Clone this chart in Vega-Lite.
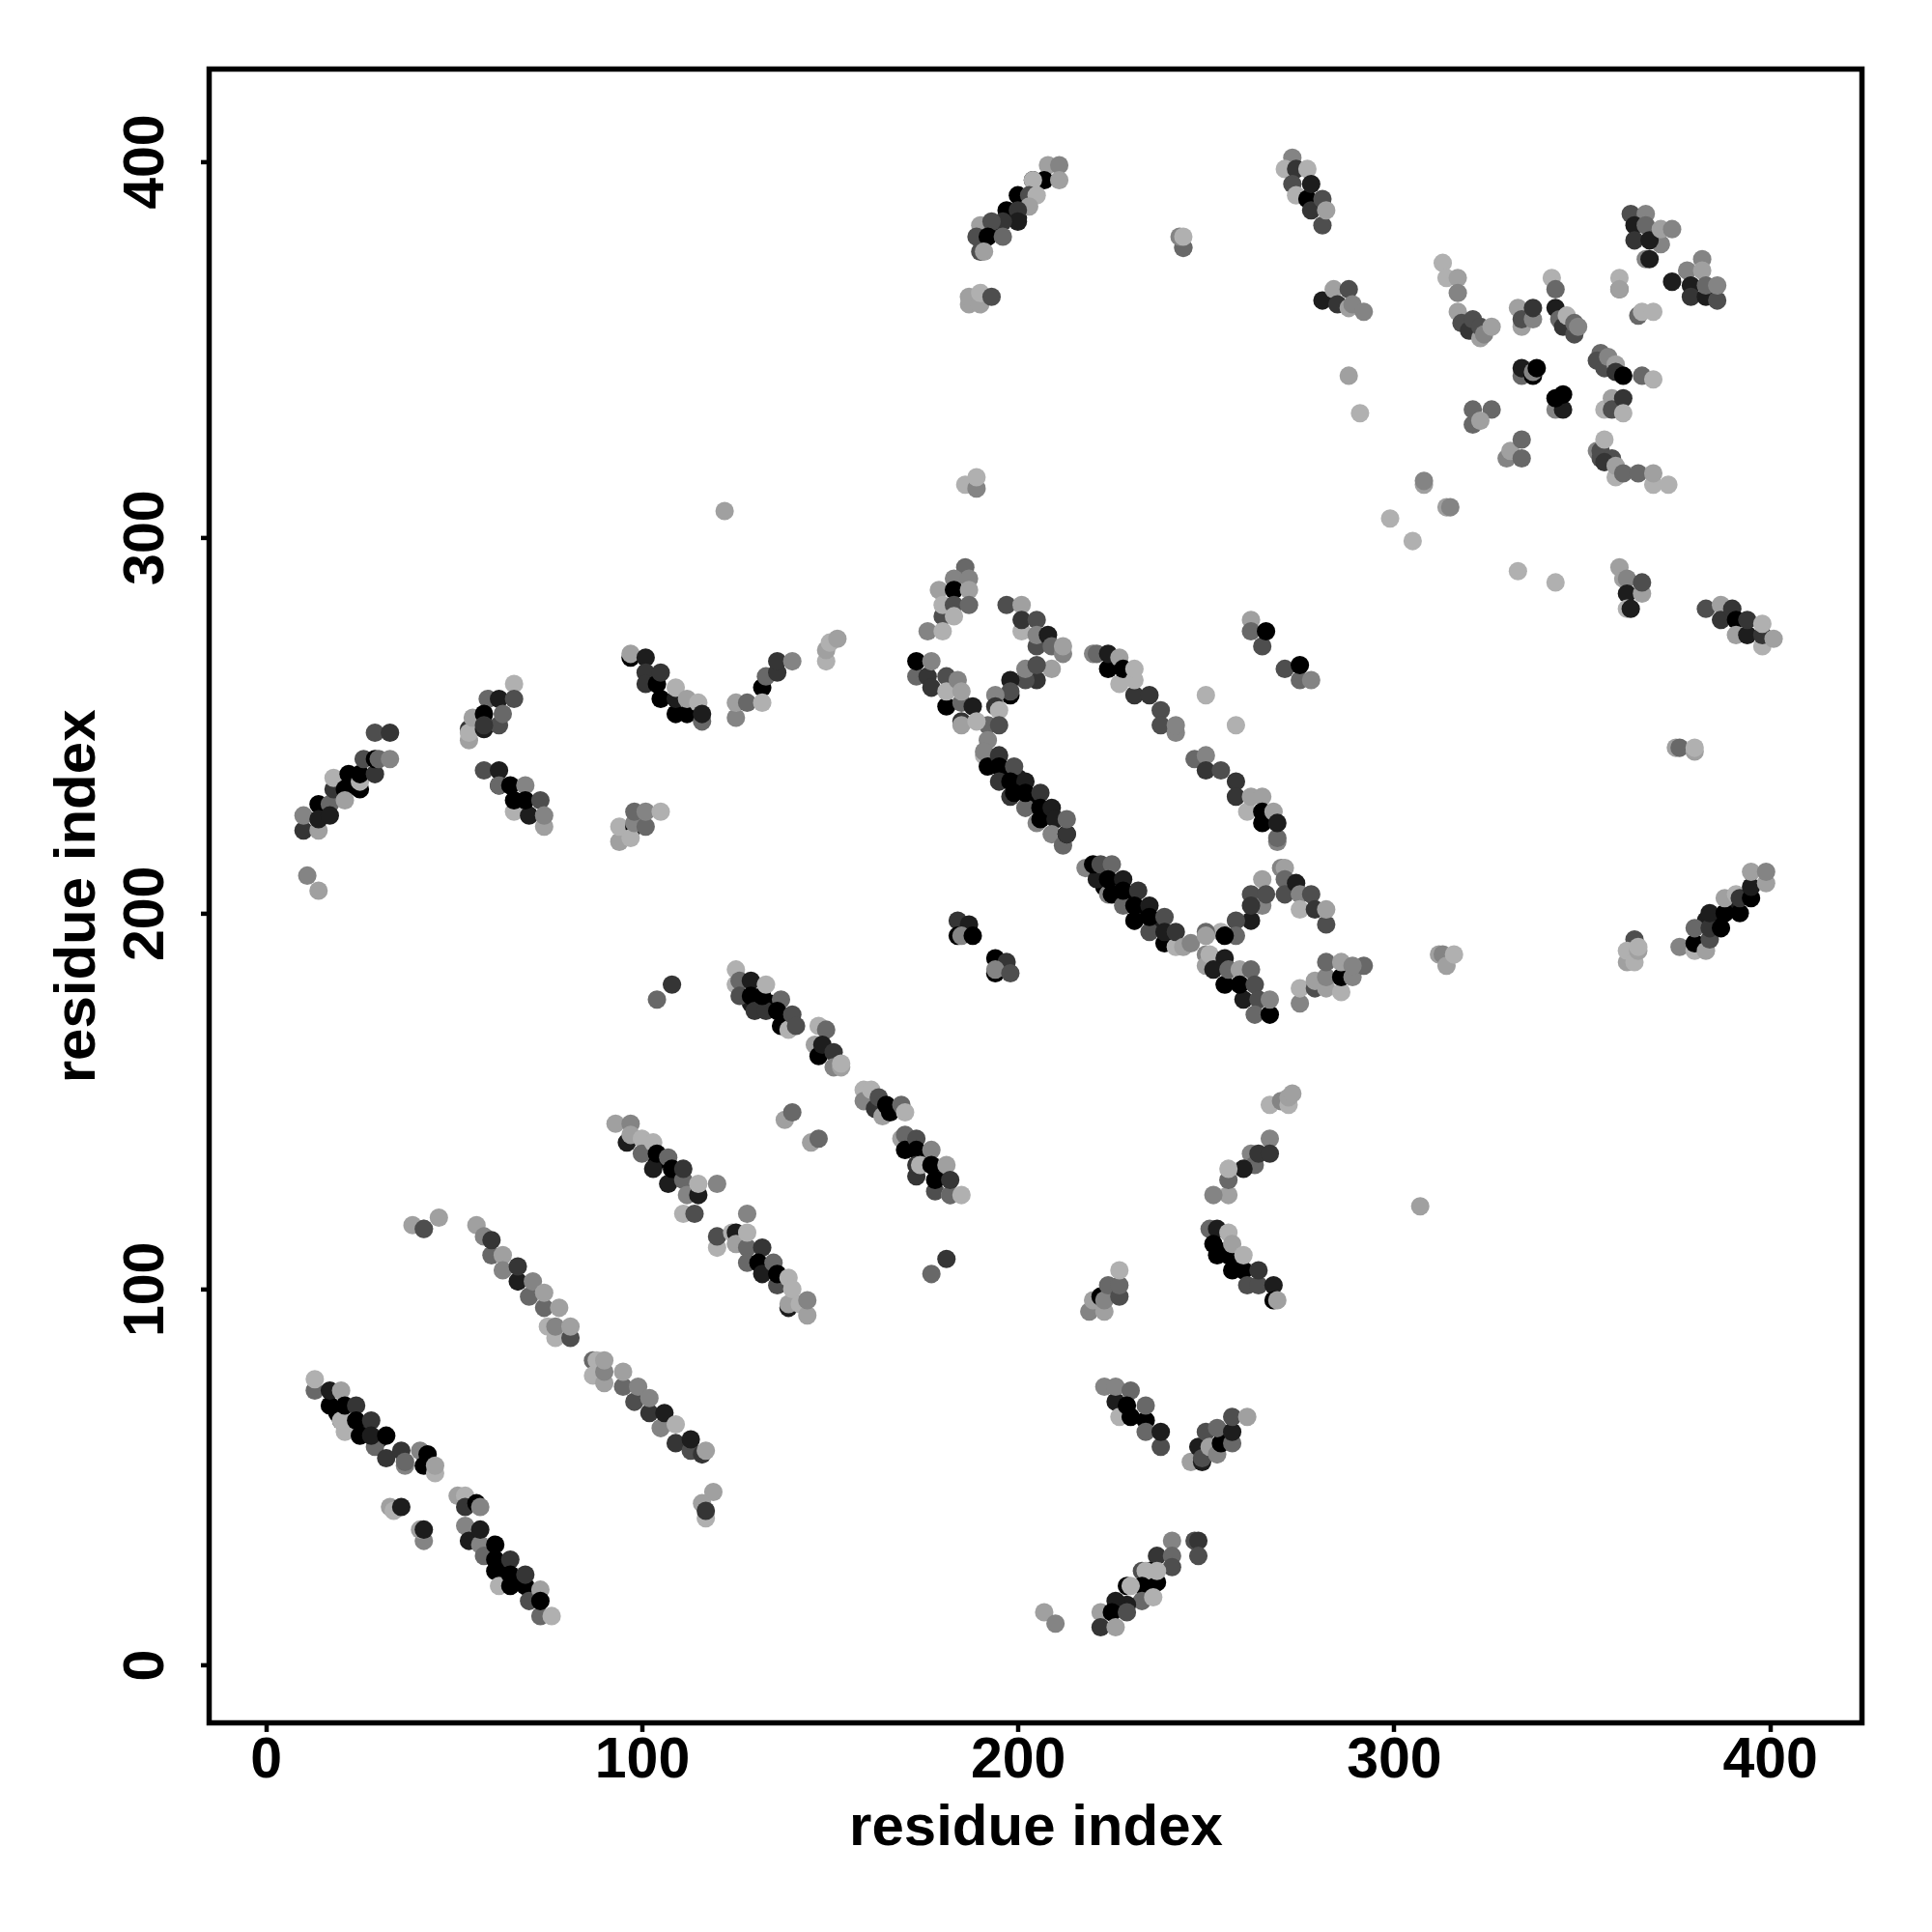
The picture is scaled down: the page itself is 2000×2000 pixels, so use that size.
{"$schema":"https://vega.github.io/schema/vega-lite/v6.json","autosize":"none","padding":{"left":216.5,"top":71.4,"right":72.5,"bottom":216.6},"width":1711,"height":1712,"background":"white","view":{"stroke":"black","strokeWidth":5.5,"fill":null},"data":{"values":[
{"i":197,"j":238,"p":1},{"i":200,"j":236,"p":0.85},{"i":203,"j":230,"p":1},{"i":207,"j":227,"p":0.85},{"i":204,"j":229,"p":1},{"i":223,"j":207,"p":1},{"i":226,"j":207,"p":0.85},{"i":229,"j":204,"p":1},{"i":233,"j":200,"p":1},{"i":237,"j":197,"p":0.85},{"i":241,"j":193,"p":0.7},{"i":19,"j":67,"p":1},{"i":23,"j":63,"p":1},{"i":26,"j":63,"p":0.85},{"i":30,"j":60,"p":0.7},{"i":59,"j":30,"p":1},{"i":63,"j":26,"p":1},{"i":67,"j":22,"p":1},{"i":71,"j":19,"p":0.7},{"i":383,"j":198,"p":0.85},{"i":386,"j":198,"p":1},{"i":390,"j":202,"p":0.85},{"i":200,"j":385,"p":0.85},{"i":194,"j":382,"p":0.85},{"i":129,"j":176,"p":0.85},{"i":134,"j":176,"p":1},{"i":104,"j":134,"p":1},{"i":109,"j":130,"p":0.85},{"i":175,"j":135,"p":0.85},{"i":180,"j":131,"p":0.85},{"i":254,"j":110,"p":1},{"i":258,"j":107,"p":0.85},
{"i":13,"j":73,"p":0.4},{"i":13,"j":76,"p":0.02},{"i":17,"j":69,"p":1},{"i":17,"j":73,"p":0.85},{"i":20,"j":73,"p":0.1},{"i":20,"j":65,"p":1},{"i":21,"j":62,"p":0.02},{"i":20,"j":65,"p":0.02},{"i":21,"j":69,"p":1},{"i":24,"j":69,"p":0.7},{"i":25,"j":61,"p":1},{"i":24,"j":65,"p":1},{"i":29,"j":58,"p":0.4},{"i":28,"j":65,"p":0.7},{"i":28,"j":61,"p":0.85},{"i":32,"j":61,"p":1},{"i":32,"j":55,"p":0.7},{"i":36,"j":57,"p":0.7},{"i":37,"j":53,"p":0.25},{"i":37,"j":54,"p":0.4},{"i":41,"j":57,"p":0.25},{"i":42,"j":53,"p":1},{"i":43,"j":56,"p":1},{"i":45,"j":51,"p":0.02},{"i":45,"j":53,"p":0.1},
{"i":33,"j":42,"p":0.1},{"i":34,"j":41,"p":0.02},{"i":36,"j":42,"p":0.85},{"i":42,"j":33,"p":0.25},{"i":41,"j":36,"p":0.1},{"i":42,"j":36,"p":0.85},
{"i":51,"j":45,"p":0.1},{"i":53,"j":45,"p":0.02},{"i":53,"j":42,"p":0.7},{"i":56,"j":43,"p":1},{"i":57,"j":42,"p":0.25},{"i":53,"j":37,"p":0.25},{"i":54,"j":33,"p":0.85},{"i":57,"j":32,"p":0.25},{"i":57,"j":36,"p":0.85},{"i":58,"j":29,"p":0.4},{"i":61,"j":32,"p":1},{"i":61,"j":28,"p":1},{"i":61,"j":25,"p":1},{"i":62,"j":21,"p":0.02},{"i":65,"j":21,"p":1},{"i":65,"j":28,"p":0.7},{"i":65,"j":24,"p":1},{"i":69,"j":21,"p":1},{"i":69,"j":24,"p":0.7},{"i":70,"j":17,"p":0.55},{"i":73,"j":13,"p":0.4},{"i":73,"j":20,"p":0.1},{"i":73,"j":17,"p":1},{"i":76,"j":13,"p":0.02},
{"i":39,"j":117,"p":0.1},{"i":42,"j":116,"p":0.02},{"i":42,"j":116,"p":0.55},{"i":46,"j":119,"p":0.1},
{"i":56,"j":117,"p":0.1},{"i":58,"j":114,"p":0.25},{"i":60,"j":109,"p":0.4},{"i":60,"j":113,"p":0.7},{"i":63,"j":109,"p":0.1},{"i":63,"j":105,"p":0.25},{"i":67,"j":102,"p":0.85},{"i":67,"j":106,"p":0.7},{"i":70,"j":98,"p":0.4},{"i":71,"j":102,"p":0.25},{"i":74,"j":95,"p":0.4},{"i":74,"j":99,"p":0.1},{"i":75,"j":90,"p":0.02},{"i":78,"j":95,"p":0.1},{"i":77,"j":87,"p":0.02},{"i":81,"j":87,"p":0.55},{"i":77,"j":90,"p":0.25},{"i":81,"j":90,"p":0.1},
{"i":87,"j":81,"p":0.4},{"i":87,"j":77,"p":0.02},{"i":88,"j":81,"p":0.02},{"i":90,"j":75,"p":0.1},{"i":90,"j":78,"p":0.25},{"i":90,"j":81,"p":0.1},{"i":95,"j":74,"p":0.4},{"i":95,"j":78,"p":0.1},{"i":98,"j":70,"p":0.55},{"i":99,"j":74,"p":0.25},{"i":102,"j":67,"p":0.7},{"i":102,"j":71,"p":0.25},{"i":105,"j":63,"p":0.25},{"i":106,"j":67,"p":0.85},{"i":109,"j":59,"p":0.7},{"i":109,"j":64,"p":0.02},{"i":113,"j":57,"p":0.55},{"i":113,"j":60,"p":0.85},{"i":116,"j":56,"p":0.7},{"i":117,"j":57,"p":0.1},
{"i":119,"j":46,"p":0.1},{"i":116,"j":43,"p":0.1},{"i":117,"j":39,"p":0.02},{"i":117,"j":41,"p":0.7},
{"i":93,"j":144,"p":0.1},{"i":97,"j":144,"p":0.25},{"i":96,"j":139,"p":0.85},{"i":97,"j":141,"p":0.1},{"i":100,"j":140,"p":0.02},{"i":100,"j":136,"p":0.4},{"i":103,"j":139,"p":0.02},{"i":103,"j":132,"p":0.85},{"i":104,"j":136,"p":1},{"i":107,"j":135,"p":0.4},{"i":107,"j":128,"p":0.85},{"i":108,"j":132,"p":1},{"i":111,"j":129,"p":0.4},{"i":111,"j":132,"p":0.7},{"i":112,"j":125,"p":0.25},{"i":115,"j":125,"p":0.85},{"i":115,"j":128,"p":0.02},{"i":120,"j":128,"p":0.25},{"i":111,"j":120,"p":0.02},{"i":114,"j":120,"p":0.55},
{"i":120,"j":111,"p":0.02},{"i":120,"j":114,"p":0.55},{"i":124,"j":115,"p":0.02},{"i":125,"j":115,"p":0.85},{"i":125,"j":112,"p":0.1},{"i":128,"j":111,"p":0.4},{"i":128,"j":115,"p":0.02},{"i":128,"j":120,"p":0.25},{"i":128,"j":107,"p":0.4},{"i":132,"j":111,"p":0.7},{"i":131,"j":107,"p":1},{"i":132,"j":104,"p":0.85},{"i":135,"j":107,"p":0.4},{"i":136,"j":101,"p":0.55},{"i":136,"j":104,"p":1},{"i":139,"j":95,"p":0.85},{"i":139,"j":96,"p":0.1},{"i":139,"j":103,"p":0.02},{"i":140,"j":100,"p":0.02},{"i":142,"j":96,"p":0.02},{"i":144,"j":93,"p":0.1},{"i":144,"j":97,"p":0.25},
{"i":125,"j":185,"p":0.02},{"i":125,"j":181,"p":0.02},{"i":126,"j":182,"p":0.4},{"i":126,"j":178,"p":0.55},{"i":129,"j":182,"p":0.85},{"i":129,"j":178,"p":1},{"i":130,"j":174,"p":0.7},{"i":133,"j":174,"p":0.7},{"i":132,"j":178,"p":1},{"i":133,"j":181,"p":0.02},{"i":137,"j":177,"p":0.4},{"i":136,"j":174,"p":1},{"i":137,"j":170,"p":1},{"i":139,"j":169,"p":0.02},{"i":140,"j":173,"p":0.55},{"i":141,"j":170,"p":0.55},
{"i":147,"j":170,"p":0.02},{"i":149,"j":169,"p":0.4},{"i":146,"j":165,"p":0.1},{"i":147,"j":162,"p":1},{"i":148,"j":165,"p":0.85},{"i":151,"j":163,"p":0.7},{"i":151,"j":159,"p":0.25},{"i":153,"j":159,"p":0.1},{"i":153,"j":160,"p":0.02},
{"i":159,"j":153,"p":0.02},{"i":159,"j":150,"p":0.25},{"i":161,"j":153,"p":0.02},{"i":162,"j":148,"p":0.7},{"i":163,"j":151,"p":0.55},{"i":164,"j":146,"p":0.1},{"i":165,"j":149,"p":1},{"i":166,"j":147,"p":1},{"i":169,"j":149,"p":0.4},{"i":170,"j":147,"p":0.02},
{"i":169,"j":140,"p":0.1},{"i":170,"j":141,"p":0.4},{"i":170,"j":137,"p":1},{"i":173,"j":140,"p":0.55},{"i":173,"j":137,"p":1},{"i":173,"j":130,"p":0.7},{"i":173,"j":133,"p":0.7},{"i":174,"j":133,"p":0.02},{"i":177,"j":137,"p":0.25},{"i":178,"j":126,"p":0.55},{"i":178,"j":129,"p":1},{"i":177,"j":133,"p":1},{"i":181,"j":133,"p":0.1},{"i":182,"j":125,"p":0.02},{"i":182,"j":125,"p":0.4},{"i":182,"j":129,"p":0.7},{"i":185,"j":125,"p":0.02},
{"i":138,"j":145,"p":0.1},{"i":140,"j":147,"p":0.4},{"i":145,"j":139,"p":0.1},{"i":147,"j":140,"p":0.4},{"i":104,"j":177,"p":0.4},{"i":108,"j":181,"p":0.7},{"i":177,"j":104,"p":0.4},{"i":181,"j":108,"p":0.7},
{"i":10,"j":222,"p":0.7},{"i":14,"j":222,"p":0.1},{"i":10,"j":226,"p":0.25},{"i":14,"j":229,"p":1},{"i":14,"j":225,"p":0.85},{"i":17,"j":229,"p":0.4},{"i":17,"j":226,"p":0.85},{"i":18,"j":233,"p":0.7},{"i":18,"j":236,"p":0.02},{"i":21,"j":233,"p":1},{"i":21,"j":230,"p":0.1},{"i":22,"j":237,"p":1},{"i":25,"j":233,"p":1},{"i":25,"j":235,"p":0.02},{"i":25,"j":237,"p":1},{"i":29,"j":237,"p":0.7},{"i":26,"j":241,"p":0.55},{"i":29,"j":241,"p":1},{"i":30,"j":241,"p":0.4},{"i":33,"j":241,"p":0.25},{"i":29,"j":248,"p":0.55},{"i":33,"j":248,"p":0.7},
{"i":11,"j":210,"p":0.25},{"i":14,"j":206,"p":0.1},{"i":122,"j":307,"p":0.1},
{"i":66,"j":261,"p":0.02},{"i":59,"j":257,"p":0.4},{"i":54,"j":246,"p":0.1},{"i":54,"j":249,"p":0.7},{"i":54,"j":248,"p":0.02},{"i":55,"j":252,"p":0.1},{"i":58,"j":249,"p":0.85},{"i":58,"j":253,"p":1},{"i":62,"j":250,"p":0.55},{"i":58,"j":250,"p":0.7},{"i":62,"j":257,"p":0.85},{"i":63,"j":253,"p":0.4},{"i":66,"j":257,"p":0.55},
{"i":58,"j":238,"p":0.55},{"i":62,"j":238,"p":0.85},{"i":62,"j":234,"p":1},{"i":62,"j":234,"p":0.4},{"i":66,"j":227,"p":0.02},{"i":65,"j":234,"p":1},{"i":66,"j":230,"p":1},{"i":69,"j":234,"p":0.25},{"i":70,"j":226,"p":0.85},{"i":69,"j":230,"p":1},{"i":73,"j":230,"p":0.55},{"i":74,"j":223,"p":0.1},{"i":74,"j":226,"p":0.25},
{"i":94,"j":219,"p":0.1},{"i":94,"j":223,"p":0.02},{"i":98,"j":223,"p":1},{"i":97,"j":220,"p":0.02},{"i":98,"j":224,"p":0.25},{"i":98,"j":227,"p":0.4},{"i":101,"j":223,"p":0.4},{"i":101,"j":227,"p":0.25},{"i":105,"j":227,"p":0.02},
{"i":97,"j":268,"p":1},{"i":97,"j":269,"p":0.1},{"i":101,"j":268,"p":0.85},{"i":101,"j":264,"p":0.7},{"i":101,"j":261,"p":0.7},{"i":104,"j":261,"p":1},{"i":105,"j":257,"p":1},{"i":105,"j":264,"p":0.7},{"i":109,"j":253,"p":1},{"i":109,"j":257,"p":0.85},{"i":109,"j":260,"p":0.02},{"i":112,"j":253,"p":1},{"i":112,"j":257,"p":0.1},{"i":115,"j":256,"p":0.02},{"i":116,"j":251,"p":0.4},{"i":116,"j":253,"p":0.85},
{"i":125,"j":252,"p":0.25},{"i":125,"j":256,"p":0.1},{"i":128,"j":256,"p":0.4},{"i":132,"j":260,"p":1},{"i":132,"j":256,"p":0.02},{"i":133,"j":263,"p":0.4},{"i":136,"j":264,"p":0.7},{"i":136,"j":267,"p":0.7},{"i":140,"j":267,"p":0.25},
{"i":149,"j":267,"p":0.02},{"i":149,"j":270,"p":0.1},{"i":150,"j":272,"p":0.02},{"i":152,"j":273,"p":0.1},
{"i":186,"j":292,"p":0.4},{"i":183,"j":289,"p":0.25},{"i":187,"j":289,"p":0.25},{"i":179,"j":286,"p":0.1},{"i":183,"j":286,"p":1},{"i":187,"j":286,"p":0.1},{"i":180,"j":279,"p":0.55},{"i":180,"j":282,"p":0.02},{"i":183,"j":282,"p":0.55},{"i":187,"j":282,"p":0.4},{"i":183,"j":279,"p":0.02},{"i":176,"j":275,"p":0.25},{"i":180,"j":275,"p":0.02},
{"i":197,"j":282,"p":0.55},{"i":201,"j":282,"p":0.1},{"i":201,"j":275,"p":0.02},{"i":201,"j":278,"p":0.7},{"i":205,"j":271,"p":0.55},{"i":205,"j":278,"p":0.55},{"i":205,"j":274,"p":0.25},{"i":208,"j":274,"p":0.85},{"i":209,"j":271,"p":0.4},{"i":212,"j":269,"p":0.25},{"i":212,"j":271,"p":0.1},
{"i":209,"j":265,"p":0.1},{"i":205,"j":262,"p":0.7},{"i":202,"j":262,"p":0.55},{"i":202,"j":265,"p":0.25},{"i":205,"j":266,"p":0.55},{"i":198,"j":258,"p":1},{"i":198,"j":262,"p":0.85},{"i":198,"j":259,"p":0.55},{"i":194,"j":258,"p":0.25},{"i":194,"j":255,"p":0.7},{"i":195,"j":254,"p":0.02},{"i":192,"j":250,"p":0.4},{"i":195,"j":250,"p":0.55},
{"i":173,"j":263,"p":0.4},{"i":173,"j":267,"p":1},{"i":176,"j":263,"p":0.7},{"i":177,"j":267,"p":0.25},{"i":177,"j":260,"p":0.7},{"i":181,"j":263,"p":0.55},{"i":181,"j":255,"p":1},{"i":181,"j":259,"p":0.02},{"i":184,"j":262,"p":0.25},{"i":185,"j":256,"p":0.4},{"i":185,"j":251,"p":0.7},{"i":185,"j":259,"p":0.1},{"i":185,"j":250,"p":0.1},{"i":188,"j":255,"p":0.85},{"i":189,"j":251,"p":0.02},
{"i":192,"j":246,"p":0.25},{"i":191,"j":242,"p":0.02},{"i":191,"j":243,"p":0.25},{"i":192,"j":239,"p":1},{"i":195,"j":242,"p":0.7},{"i":195,"j":239,"p":1},{"i":199,"j":239,"p":0.55},{"i":195,"j":235,"p":0.7},{"i":198,"j":235,"p":1},{"i":202,"j":235,"p":0.85},{"i":198,"j":231,"p":0.7},{"i":199,"j":232,"p":1},{"i":202,"j":228,"p":0.4},{"i":202,"j":232,"p":1},{"i":206,"j":232,"p":0.7},{"i":206,"j":228,"p":1},{"i":205,"j":224,"p":0.25},{"i":206,"j":225,"p":1},{"i":209,"j":228,"p":0.85},{"i":210,"j":225,"p":0.85},{"i":209,"j":221,"p":0.25},{"i":212,"j":218,"p":0.4},{"i":213,"j":221,"p":1},{"i":213,"j":221,"p":0.7},{"i":213,"j":225,"p":0.4},
{"i":220,"j":269,"p":0.25},{"i":221,"j":269,"p":0.4},{"i":224,"j":265,"p":1},{"i":224,"j":269,"p":0.85},{"i":227,"j":261,"p":0.02},{"i":227,"j":268,"p":0.1},{"i":228,"j":265,"p":1},{"i":231,"j":258,"p":0.7},{"i":231,"j":262,"p":0.02},{"i":231,"j":265,"p":0.02},{"i":235,"j":258,"p":0.7},{"i":238,"j":254,"p":0.55},{"i":238,"j":250,"p":0.55},{"i":242,"j":248,"p":0.25},{"i":242,"j":250,"p":0.25},
{"i":247,"j":241,"p":0.4},{"i":250,"j":242,"p":0.25},{"i":250,"j":238,"p":0.7},{"i":254,"j":238,"p":0.55},{"i":258,"j":235,"p":0.7},{"i":258,"j":231,"p":0.7},{"i":261,"j":227,"p":0.02},{"i":262,"j":231,"p":0.1},{"i":265,"j":231,"p":0.1},{"i":265,"j":224,"p":1},{"i":265,"j":227,"p":1},{"i":268,"j":227,"p":0.1},{"i":269,"j":219,"p":0.25},{"i":269,"j":220,"p":0.4},{"i":269,"j":224,"p":0.85},
{"i":250,"j":258,"p":0.02},{"i":258,"j":250,"p":0.02},{"i":262,"j":278,"p":0.1},{"i":262,"j":275,"p":0.4},{"i":265,"j":271,"p":0.55},{"i":266,"j":275,"p":1},{"i":271,"j":265,"p":0.55},{"i":275,"j":262,"p":0.4},{"i":275,"j":266,"p":1},{"i":278,"j":262,"p":0.25},
{"i":218,"j":212,"p":0.25},{"i":221,"j":209,"p":0.85},{"i":220,"j":213,"p":1},{"i":222,"j":213,"p":0.55},{"i":225,"j":213,"p":0.4},{"i":224,"j":205,"p":0.25},{"i":224,"j":209,"p":1},{"i":228,"j":209,"p":0.85},{"i":225,"j":205,"p":1},{"i":228,"j":202,"p":0.4},{"i":228,"j":206,"p":1},{"i":232,"j":206,"p":0.7},{"i":231,"j":198,"p":0.1},{"i":231,"j":202,"p":1},{"i":235,"j":202,"p":0.85},{"i":231,"j":198,"p":1},{"i":235,"j":195,"p":0.55},{"i":235,"j":199,"p":1},{"i":239,"j":199,"p":0.55},{"i":239,"j":192,"p":1},{"i":239,"j":195,"p":0.85},{"i":242,"j":191,"p":0.02},{"i":242,"j":195,"p":0.7},{"i":244,"j":191,"p":0.1},{"i":246,"j":192,"p":0.25},
{"i":184,"j":198,"p":0.7},{"i":187,"j":197,"p":0.85},{"i":184,"j":194,"p":1},{"i":185,"j":194,"p":0.25},{"i":188,"j":194,"p":1},{"i":194,"j":188,"p":1},{"i":197,"j":187,"p":0.7},{"i":194,"j":184,"p":1},{"i":194,"j":185,"p":0.25},{"i":198,"j":184,"p":0.55},
{"i":265,"j":209,"p":0.1},{"i":270,"j":212,"p":0.25},{"i":271,"j":212,"p":0.1},{"i":271,"j":209,"p":0.4},{"i":271,"j":205,"p":0.55},{"i":274,"j":208,"p":0.85},{"i":275,"j":205,"p":0.25},{"i":275,"j":201,"p":0.02},{"i":278,"j":205,"p":0.55},{"i":279,"j":201,"p":0.7},{"i":282,"j":197,"p":0.55},{"i":282,"j":201,"p":0.1},
{"i":262,"j":205,"p":0.55},{"i":262,"j":198,"p":0.85},{"i":265,"j":202,"p":0.25},{"i":262,"j":202,"p":0.7},{"i":266,"j":205,"p":0.55},{"i":258,"j":198,"p":0.55},{"i":258,"j":194,"p":0.4},{"i":254,"j":195,"p":0.02},{"i":255,"j":194,"p":1},{"i":250,"j":195,"p":0.4},{"i":250,"j":194,"p":0.1},
{"i":250,"j":189,"p":0.25},{"i":250,"j":186,"p":0.1},{"i":251,"j":189,"p":0.02},{"i":255,"j":188,"p":0.85},{"i":252,"j":185,"p":0.85},{"i":255,"j":181,"p":1},{"i":256,"j":185,"p":0.4},{"i":259,"j":185,"p":0.1},{"i":260,"j":177,"p":0.85},{"i":259,"j":181,"p":1},{"i":262,"j":185,"p":0.4},{"i":263,"j":181,"p":0.55},{"i":264,"j":177,"p":0.55},{"i":263,"j":173,"p":0.4},{"i":267,"j":173,"p":1},{"i":267,"j":177,"p":0.25},
{"i":275,"j":176,"p":0.25},{"i":275,"j":180,"p":0.02},{"i":279,"j":180,"p":0.55},{"i":279,"j":182,"p":0.1},{"i":282,"j":180,"p":0.1},{"i":286,"j":179,"p":0.02},{"i":282,"j":183,"p":0.25},{"i":282,"j":187,"p":0.4},{"i":286,"j":183,"p":1},{"i":286,"j":187,"p":0.1},{"i":289,"j":183,"p":0.25},{"i":292,"j":186,"p":0.4},{"i":289,"j":186,"p":0.25},
{"i":312,"j":189,"p":0.1},{"i":313,"j":189,"p":0.25},{"i":314,"j":186,"p":0.1},{"i":316,"j":189,"p":0.02},
{"i":375,"j":244,"p":0.1},{"i":376,"j":244,"p":0.4},{"i":380,"j":243,"p":0.1},{"i":380,"j":244,"p":0.02},
{"i":364,"j":193,"p":0.55},{"i":362,"j":187,"p":0.1},{"i":362,"j":190,"p":0.02},{"i":364,"j":187,"p":0.02},{"i":365,"j":190,"p":0.1},{"i":365,"j":191,"p":0.02},
{"i":376,"j":191,"p":0.25},{"i":380,"j":190,"p":0.02},{"i":380,"j":192,"p":1},{"i":380,"j":196,"p":0.4},{"i":383,"j":190,"p":0.1},{"i":384,"j":193,"p":0.55},{"i":384,"j":196,"p":0.7},{"i":384,"j":200,"p":0.85},{"i":387,"j":196,"p":1},{"i":388,"j":200,"p":1},{"i":388,"j":204,"p":0.1},{"i":391,"j":205,"p":0.02},{"i":392,"j":200,"p":1},{"i":392,"j":204,"p":0.7},{"i":395,"j":204,"p":1},{"i":395,"j":207,"p":0.85},{"i":395,"j":211,"p":0.1},{"i":399,"j":208,"p":0.1},{"i":399,"j":211,"p":0.25},
{"i":273,"j":401,"p":0.25},{"i":271,"j":398,"p":0.02},{"i":274,"j":398,"p":0.7},{"i":273,"j":394,"p":0.55},{"i":274,"j":391,"p":0.02},{"i":277,"j":390,"p":1},{"i":277,"j":398,"p":0.02},{"i":278,"j":394,"p":0.85},{"i":278,"j":387,"p":0.7},{"i":281,"j":390,"p":0.55},{"i":281,"j":383,"p":0.55},{"i":282,"j":387,"p":0.1},
{"i":281,"j":363,"p":0.85},{"i":284,"j":366,"p":0.1},{"i":285,"j":362,"p":0.7},{"i":288,"j":366,"p":0.55},{"i":288,"j":361,"p":0.1},{"i":289,"j":362,"p":0.25},{"i":292,"j":360,"p":0.25},
{"i":288,"j":343,"p":0.1},{"i":291,"j":333,"p":0.02},
{"i":313,"j":373,"p":0.02},{"i":314,"j":369,"p":0.02},{"i":317,"j":369,"p":0.1},{"i":317,"j":365,"p":0.25},{"i":317,"j":360,"p":0.1},{"i":318,"j":357,"p":0.55},{"i":320,"j":355,"p":0.7},{"i":321,"j":358,"p":0.55},{"i":323,"j":353,"p":0.1},{"i":323,"j":356,"p":0.55},{"i":324,"j":354,"p":0.25},{"i":326,"j":356,"p":0.1},
{"i":334,"j":356,"p":0.1},{"i":333,"j":361,"p":0.1},{"i":334,"j":358,"p":0.55},{"i":337,"j":358,"p":0.25},{"i":337,"j":361,"p":0.7},{"i":342,"j":369,"p":0.02},{"i":343,"j":366,"p":0.4},{"i":343,"j":361,"p":0.85},{"i":344,"j":358,"p":0.4},{"i":345,"j":356,"p":0.7},{"i":346,"j":359,"p":0.02},{"i":348,"j":354,"p":0.55},{"i":348,"j":357,"p":0.4},{"i":349,"j":356,"p":0.25},
{"i":360,"j":366,"p":0.4},{"i":360,"j":369,"p":0.02},{"i":360,"j":366,"p":0.1},{"i":365,"j":359,"p":0.4},{"i":366,"j":360,"p":0.02},{"i":369,"j":360,"p":0.02},
{"i":363,"j":386,"p":0.55},{"i":367,"j":386,"p":0.25},{"i":364,"j":383,"p":0.85},{"i":367,"j":383,"p":0.4},{"i":364,"j":379,"p":0.7},{"i":371,"j":378,"p":0.25},{"i":368,"j":379,"p":0.85},{"i":371,"j":382,"p":0.1},{"i":374,"j":382,"p":0.25},{"i":367,"j":374,"p":0.25},{"i":368,"j":374,"p":0.85},
{"i":374,"j":368,"p":0.85},{"i":378,"j":371,"p":0.25},{"i":382,"j":374,"p":0.25},{"i":382,"j":371,"p":0.1},{"i":379,"j":367,"p":0.85},{"i":379,"j":364,"p":0.7},{"i":383,"j":364,"p":0.85},{"i":383,"j":367,"p":0.4},{"i":386,"j":363,"p":0.55},{"i":386,"j":367,"p":0.25},
{"i":334,"j":343,"p":0.4},{"i":334,"j":345,"p":0.85},{"i":337,"j":343,"p":1},{"i":337,"j":344,"p":0.25},{"i":338,"j":345,"p":1},
{"i":343,"j":334,"p":0.25},{"i":345,"j":334,"p":0.85},{"i":343,"j":337,"p":1},{"i":345,"j":338,"p":1},
{"i":355,"j":349,"p":0.4},{"i":354,"j":347,"p":0.55},{"i":356,"j":345,"p":0.55},{"i":357,"j":348,"p":0.25},{"i":359,"j":346,"p":0.1},{"i":359,"j":344,"p":0.7},{"i":361,"j":343,"p":1},{"i":366,"j":343,"p":0.4},{"i":369,"j":342,"p":0.02},
{"i":356,"j":334,"p":0.02},{"i":358,"j":337,"p":0.1},{"i":358,"j":334,"p":0.55},{"i":361,"j":337,"p":0.7},{"i":361,"j":333,"p":0.02},
{"i":321,"j":330,"p":0.4},{"i":321,"j":334,"p":0.4},{"i":326,"j":334,"p":0.4},{"i":323,"j":331,"p":0.1},
{"i":330,"j":321,"p":0.25},{"i":331,"j":323,"p":0.1},{"i":334,"j":326,"p":0.4},{"i":334,"j":321,"p":0.4},
{"i":354,"j":323,"p":0.25},{"i":355,"j":321,"p":0.55},{"i":355,"j":323,"p":0.55},{"i":358,"j":321,"p":0.55},{"i":356,"j":320,"p":0.7},{"i":356,"j":326,"p":0.02},{"i":359,"j":316,"p":0.02},{"i":359,"j":319,"p":0.1},{"i":361,"j":317,"p":0.4},{"i":365,"j":317,"p":0.4},{"i":369,"j":314,"p":0.02},{"i":369,"j":317,"p":0.1},{"i":373,"j":314,"p":0.02},
{"i":308,"j":314,"p":0.1},{"i":308,"j":315,"p":0.25},{"i":314,"j":308,"p":0.1},{"i":315,"j":308,"p":0.25},{"i":299,"j":305,"p":0.02},{"i":305,"j":299,"p":0.02},{"i":333,"j":291,"p":0.02},{"i":343,"j":288,"p":0.02},
{"i":360,"j":292,"p":0.1},{"i":361,"j":289,"p":0.1},{"i":362,"j":289,"p":0.25},{"i":362,"j":285,"p":0.85},{"i":362,"j":281,"p":0.02},{"i":366,"j":285,"p":0.1},{"i":366,"j":288,"p":0.55},{"i":363,"j":281,"p":0.85},
{"i":383,"j":281,"p":0.55},{"i":387,"j":282,"p":0.1},{"i":387,"j":278,"p":0.7},{"i":390,"j":281,"p":0.7},{"i":391,"j":278,"p":1},{"i":391,"j":274,"p":0.1},{"i":394,"j":274,"p":0.85},{"i":394,"j":278,"p":0.7},{"i":398,"j":271,"p":0.02},{"i":398,"j":274,"p":0.7},{"i":398,"j":277,"p":0.02},{"i":401,"j":273,"p":0.1},
{"i":208,"j":399,"p":0.1},{"i":211,"j":399,"p":0.25},{"i":207,"j":395,"p":1},{"i":204,"j":395,"p":1},{"i":204,"j":395,"p":0.02},{"i":211,"j":395,"p":0.1},{"i":200,"j":391,"p":1},{"i":203,"j":391,"p":0.55},{"i":205,"j":391,"p":0.02},{"i":203,"j":388,"p":0.1},{"i":197,"j":387,"p":1},{"i":200,"j":387,"p":0.7},{"i":200,"j":384,"p":0.85},{"i":196,"j":384,"p":0.7},{"i":190,"j":383,"p":0.1},{"i":193,"j":384,"p":0.55},{"i":189,"j":380,"p":0.55},{"i":192,"j":380,"p":1},{"i":196,"j":380,"p":0.4},{"i":190,"j":376,"p":0.55},{"i":191,"j":376,"p":0.1},
{"i":187,"j":362,"p":0.1},{"i":187,"j":364,"p":0.1},{"i":190,"j":362,"p":0.1},{"i":190,"j":365,"p":0.02},{"i":193,"j":364,"p":0.55},
{"i":244,"j":377,"p":0.02},{"i":244,"j":377,"p":0.4},{"i":243,"j":380,"p":0.25},{"i":244,"j":380,"p":0.02},
{"i":186,"j":314,"p":0.02},{"i":189,"j":313,"p":0.25},{"i":189,"j":316,"p":0.02},
{"i":267,"j":149,"p":0.02},{"i":270,"j":150,"p":0.25},{"i":272,"j":149,"p":0.02},{"i":272,"j":151,"p":0.1},{"i":273,"j":152,"p":0.1},
{"i":267,"j":140,"p":0.25},{"i":262,"j":136,"p":0.25},{"i":263,"j":133,"p":0.4},{"i":264,"j":136,"p":0.7},{"i":267,"j":136,"p":0.7},{"i":260,"j":132,"p":0.85},{"i":256,"j":125,"p":0.1},{"i":256,"j":129,"p":0.4},{"i":256,"j":132,"p":0.02},{"i":252,"j":125,"p":0.25},{"i":307,"j":122,"p":0.1},
{"i":251,"j":116,"p":0.4},{"i":253,"j":116,"p":0.85},{"i":252,"j":112,"p":1},{"i":253,"j":109,"p":1},{"i":256,"j":109,"p":1},{"i":256,"j":115,"p":0.02},{"i":257,"j":112,"p":0.1},{"i":257,"j":105,"p":1},{"i":260,"j":105,"p":1},{"i":260,"j":109,"p":0.02},{"i":261,"j":101,"p":0.55},{"i":264,"j":101,"p":0.55},{"i":264,"j":105,"p":0.7},{"i":268,"j":101,"p":0.85},{"i":268,"j":97,"p":1},{"i":269,"j":97,"p":0.1},
{"i":219,"j":94,"p":0.25},{"i":220,"j":97,"p":0.1},{"i":222,"j":98,"p":1},{"i":223,"j":94,"p":0.1},{"i":223,"j":97,"p":0.25},{"i":224,"j":101,"p":0.4},{"i":227,"j":98,"p":0.55},{"i":227,"j":101,"p":0.4},{"i":227,"j":105,"p":0.02},
{"i":223,"j":74,"p":0.25},{"i":226,"j":70,"p":0.85},{"i":226,"j":74,"p":0.25},{"i":227,"j":66,"p":0.02},{"i":230,"j":73,"p":0.4},{"i":229,"j":69,"p":1},{"i":230,"j":66,"p":1},{"i":234,"j":65,"p":1},{"i":234,"j":69,"p":0.4},{"i":234,"j":62,"p":0.4},{"i":238,"j":58,"p":0.55},{"i":238,"j":62,"p":0.85},
{"i":246,"j":54,"p":0.1},{"i":249,"j":54,"p":0.85},{"i":248,"j":58,"p":0.85},{"i":249,"j":55,"p":0.55},{"i":250,"j":62,"p":0.55},{"i":251,"j":58,"p":0.1},{"i":253,"j":56,"p":0.25},{"i":254,"j":59,"p":1},{"i":253,"j":63,"p":0.4},{"i":257,"j":59,"p":0.4},{"i":257,"j":62,"p":0.85},{"i":257,"j":66,"p":0.55},{"i":261,"j":66,"p":0.1},
{"i":241,"j":33,"p":0.25},{"i":247,"j":33,"p":0.55},{"i":248,"j":33,"p":0.7},{"i":248,"j":29,"p":0.55},{"i":237,"j":29,"p":0.7},{"i":241,"j":29,"p":0.4},{"i":241,"j":26,"p":0.55},{"i":233,"j":25,"p":0.55},{"i":235,"j":25,"p":1},{"i":237,"j":22,"p":1},{"i":237,"j":25,"p":0.02},{"i":234,"j":25,"p":0.02},{"i":233,"j":21,"p":1},{"i":229,"j":21,"p":1},{"i":230,"j":21,"p":0.02},{"i":233,"j":17,"p":0.4},{"i":236,"j":18,"p":0.02},{"i":229,"j":16,"p":0.85},{"i":226,"j":17,"p":0.85},{"i":222,"j":14,"p":0.1},{"i":225,"j":14,"p":1},{"i":229,"j":14,"p":0.55},{"i":222,"j":10,"p":0.7},{"i":226,"j":10,"p":0.1},
{"i":207,"j":14,"p":0.1},{"i":210,"j":11,"p":0.25}
]},"mark":{"type":"circle","opacity":1,"size":365,"clip":false},"encoding":{"x":{"field":"i","type":"quantitative","scale":{"domain":[-15.1,424.5],"nice":false,"zero":false},"axis":{"values":[0,100,200,300,400],"title":"residue index","grid":false,"domain":false,"ticks":true,"tickColor":"black","tickSize":9,"tickWidth":4.5,"labelFont":"Liberation Sans","labelFontWeight":"bold","labelFontSize":59,"labelColor":"black","labelPadding":0,"labelOverlap":false,"titleFont":"Liberation Sans","titleFontWeight":"bold","titleFontSize":60,"titleColor":"black","titlePadding":11}},"y":{"field":"j","type":"quantitative","scale":{"domain":[-15.4,424.6],"nice":false,"zero":false},"axis":{"values":[0,100,200,300,400],"title":"residue index","grid":false,"domain":false,"ticks":true,"tickColor":"black","tickSize":9,"tickWidth":4.5,"labelFont":"Liberation Sans","labelFontWeight":"bold","labelFontSize":59,"labelColor":"black","labelAngle":-90,"labelAlign":"center","labelBaseline":"bottom","labelPadding":27,"labelOverlap":false,"titleFont":"Liberation Sans","titleFontWeight":"bold","titleFontSize":60,"titleColor":"black","titlePadding":11}},"color":{"field":"p","type":"quantitative","legend":null,"scale":{"domain":[0,1],"range":["#b4b4b4","#000000"]}}}}
